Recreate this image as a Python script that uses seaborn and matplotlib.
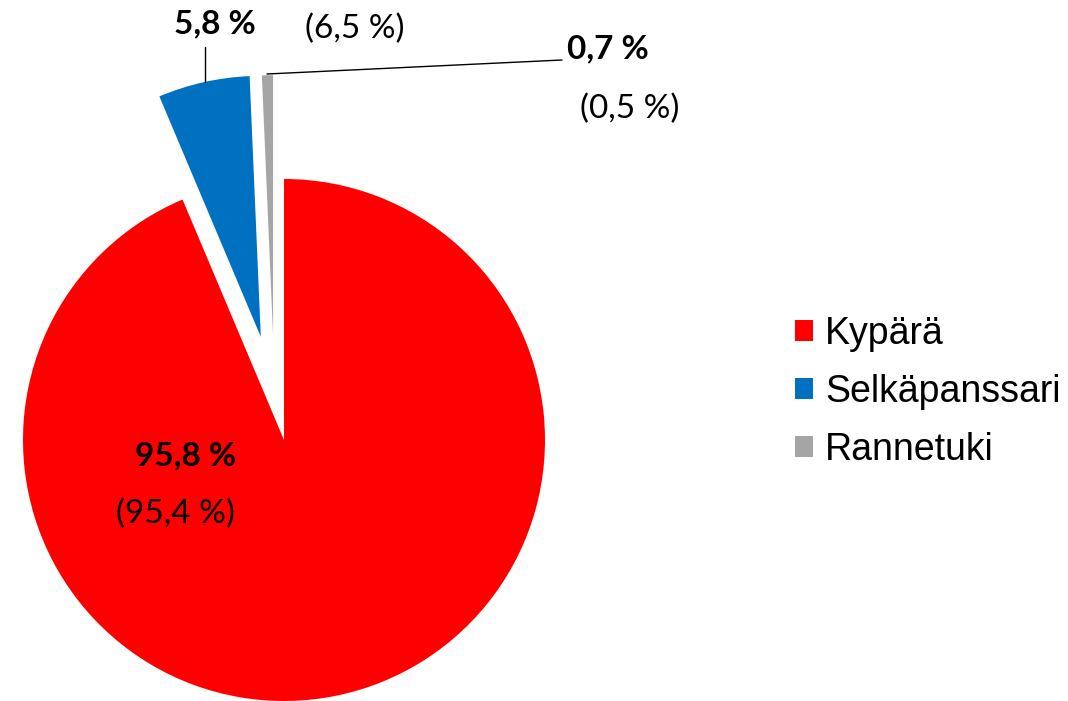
import numpy as np
import matplotlib
matplotlib.use("Agg")
import matplotlib.pyplot as plt
from matplotlib.patches import Patch
import seaborn as sns

# data
categories = ["Kypärä", "Selkäpanssari", "Rannetuki"]
shares = [95.8, 5.8, 0.7]          # bold labels
shares_prev = [95.4, 6.5, 0.5]     # values in brackets
colors = ["#FF0000", "#0070C0", "#A5A5A5"]

sns.set_theme(style="white")
plt.rcParams["font.family"] = ["Lato", "DejaVu Sans"]

W, H = 1068, 701
CX, CY, R = 284, 440, 261   # pie centre / radius in pixels


def px(x, y):
    # pixel position (from top-left) -> data coords of the pie axes
    return (x - CX) / R, (CY - y) / R


def fmt(v):
    return f"{v:.1f} %".replace(".", ",")


fig = plt.figure(figsize=(W / 100, H / 100), dpi=100)
ax = fig.add_axes([0, 0, 1, 1])

wedges, _ = ax.pie(shares, colors=colors, startangle=90, counterclock=False,
                   explode=[0, 0.405, 0.40], radius=1,
                   wedgeprops=dict(linewidth=0))
# the small grey slice is pulled out slightly left of its own mid-angle
a = np.deg2rad(96)
wedges[2].set_center((0.40 * np.cos(a), 0.40 * np.sin(a)))

ax.set_xlim(px(0, 0)[0], px(W, 0)[0])
ax.set_ylim(px(0, H)[1], px(0, 0)[1])
ax.axis("off")

# leader lines
x0, y0 = px(205, 82)
x1, y1 = px(205, 47)
ax.plot([x0, x1], [y0, y1], color="black", lw=1)
x0, y0 = px(267, 74)
x1, y1 = px(562, 60)
ax.plot([x0, x1], [y0, y1], color="black", lw=1)

# labels: bold share and previous share in brackets
bold_pos = [(186, 465), (215, 33), (608, 58)]
prev_pos = [(175, 523), (355, 38), (630, 118)]
for v, p, (bx, by), (qx, qy) in zip(shares, shares_prev, bold_pos, prev_pos):
    ax.text(*px(bx, by), fmt(v), ha="center", va="baseline",
            fontsize=24, fontweight="bold", color="black")
    ax.text(*px(qx, qy), f"({fmt(p)})", ha="center", va="baseline",
            fontsize=24, color="black")

handles = [Patch(facecolor=c, edgecolor="none") for c in colors]
fig.legend(handles, categories, loc="center left",
           bbox_to_anchor=(795 / W, 1 - 392 / H), frameon=False,
           prop={"family": "Liberation Sans", "size": 27},
           labelcolor="black",
           handlelength=0.48, handleheight=0.48, handletextpad=0.33,
           labelspacing=0.58, borderpad=0, borderaxespad=0)

fig.savefig("out.png", dpi=100)
